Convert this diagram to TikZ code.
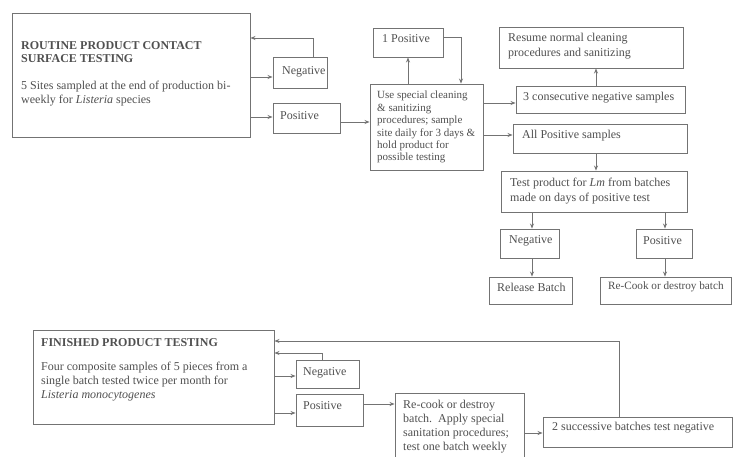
\documentclass[tikz,border=0pt]{standalone}
\usepackage{fontspec}
\setmainfont{Liberation Serif}
\usetikzlibrary{arrows.meta}
\definecolor{lc}{RGB}{115,115,115}
\definecolor{tc}{RGB}{80,80,80}
\tikzset{
  box/.style={draw=lc, line width=0.9pt, rectangle, inner sep=0pt},
  txt/.style={text=tc, inner sep=0pt, align=left, font=\fontsize{12}{14}\selectfont},
  smalltxt/.style={text=tc, inner sep=0pt, align=left, font=\fontsize{11}{12.4}\selectfont},
  arr/.style={draw=lc, line width=0.9pt, -{Stealth[length=5pt,width=4pt]}},
  ln/.style={draw=lc, line width=0.9pt}
}
\begin{document}
\begin{tikzpicture}[x=1pt,y=-1pt]
\useasboundingbox[fill=white] (0,0) rectangle (733,456);
% boxes
\node[box, minimum width=238pt, minimum height=124pt] (rt) at (131,75) {};
\node[box, minimum width=54pt, minimum height=31pt] (neg1) at (300,72.5) {};
\node[box, minimum width=67pt, minimum height=30pt] (pos1) at (306.5,118) {};
\node[box, minimum width=113pt, minimum height=86pt] (mid) at (426.5,127) {};
\node[box, minimum width=70pt, minimum height=29pt] (onep) at (408,42.5) {};
\node[box, minimum width=184pt, minimum height=41pt] (res) at (591,47.5) {};
\node[box, minimum width=169pt, minimum height=27pt] (cons) at (600.5,99.5) {};
\node[box, minimum width=174pt, minimum height=29pt] (allp) at (600,138.5) {};
\node[box, minimum width=186pt, minimum height=41pt] (test) at (594,191.5) {};
\node[box, minimum width=59pt, minimum height=29pt] (neg2) at (529.5,243.5) {};
\node[box, minimum width=56pt, minimum height=29pt] (pos2) at (664,243.5) {};
\node[box, minimum width=83pt, minimum height=27pt] (rel) at (530.5,290.5) {};
\node[box, minimum width=131pt, minimum height=27pt] (rec) at (665.5,290.5) {};
\node[box, minimum width=241pt, minimum height=94pt] (fin) at (153.5,377) {};
\node[box, minimum width=63pt, minimum height=28pt] (neg3) at (327.5,374) {};
\node[box, minimum width=67pt, minimum height=32pt] (pos3) at (329.5,410) {};
\node[box, minimum width=129pt, minimum height=67pt] (rc3) at (459.5,426.5) {};
\node[box, minimum width=189pt, minimum height=30pt] (two) at (637.5,432) {};
% texts
\node[txt, anchor=north west, font=\bfseries\fontsize{12}{13}\selectfont] (rtt) at (21,41.5) {ROUTINE PRODUCT CONTACT\\SURFACE TESTING};
\node[txt, anchor=north west] (rtb) at (21,81) {5 Sites sampled at the end of production bi-\\weekly for \textit{Listeria} species};
\node[txt, anchor=west] (neg1t) at (282,72) {Negative};
\node[txt, anchor=west] (pos1t) at (280,116) {Positive};
\node[txt, anchor=west] (onept) at (382,38.5) {1 Positive};
\node[smalltxt, anchor=north west] (midt) at (377,91) {Use special cleaning\\\& sanitizing\\procedures; sample\\site daily for 3 days \&\\hold product for\\possible testing};
\node[txt, anchor=north west, font=\fontsize{12}{15}\selectfont] (rest) at (508,33) {Resume normal cleaning\\procedures and sanitizing};
\node[txt, anchor=west] (const) at (523,98) {3 consecutive negative samples};
\node[txt, anchor=west] (allpt) at (522,136) {All Positive samples};
\node[txt, anchor=north west, font=\fontsize{12}{14.5}\selectfont] (testt) at (510,178) {Test product for \textit{Lm} from batches\\made on days of positive test};
\node[txt, anchor=west] (neg2t) at (509,241) {Negative};
\node[txt, anchor=west] (pos2t) at (643,241) {Positive};
\node[txt, anchor=west] (relt) at (497,287) {Release Batch};
\node[txt, anchor=west, font=\fontsize{11.2}{13}\selectfont] (rect) at (608,287) {Re-Cook or destroy batch};
\node[txt, anchor=north west, font=\bfseries\fontsize{12}{14}\selectfont] (fint) at (41,338) {FINISHED PRODUCT TESTING};
\node[txt, anchor=north west] (finb) at (41,362) {Four composite samples of 5 pieces from a\\single batch tested twice per month for\\\textit{Listeria monocytogenes}};
\node[txt, anchor=west] (neg3t) at (303,373) {Negative};
\node[txt, anchor=west] (pos3t) at (303,406) {Positive};
\node[txt, anchor=north west] (rc3t) at (403,400) {Re-cook or destroy\\batch.\ \ Apply special\\sanitation procedures;\\test one batch weekly};
\node[txt, anchor=west] (twot) at (552,428) {2 successive batches test negative};
% connectors top
\draw[arr] ([xshift=13pt]neg1.north) |- ([yshift=37pt]rt.east);
\draw[arr] ([yshift=-2pt]rt.east) -- ([yshift=-2pt]rt.east -| neg1.west);
\draw[arr] ([yshift=-42pt]rt.east) -- ([yshift=-42pt]rt.east -| pos1.west);
\draw[arr] ([yshift=-4pt]pos1.east) -- ([yshift=-4pt]pos1.east -| mid.west);
\draw[arr] (onep.south |- mid.north) -- (onep.south);
\draw[arr] ([yshift=5.5pt]onep.east) -| ([xshift=34.5pt]mid.north);
\draw[arr] ([yshift=24pt]mid.east) -- ([yshift=24pt]mid.east -| cons.west);
\draw[arr] ([yshift=-8pt]mid.east) -- ([yshift=-8pt]mid.east -| allp.west);
\draw[arr] ([xshift=-4.5pt]cons.north) -- ([xshift=-4.5pt]cons.north |- res.south);
\draw[arr] ([xshift=-4pt]allp.south) -- ([xshift=-4pt]allp.south |- test.north);
\draw[arr] ([xshift=2.5pt]neg2.north |- test.south) -- ([xshift=2.5pt]neg2.north);
\draw[arr] ([xshift=1pt]pos2.north |- test.south) -- ([xshift=1pt]pos2.north);
\draw[arr] ([xshift=2.5pt]neg2.south) -- ([xshift=2.5pt]neg2.south |- rel.north);
\draw[arr] ([xshift=1pt]pos2.south) -- ([xshift=1pt]pos2.south |- rec.north);
% connectors bottom
\draw[arr] ([xshift=-18.5pt]two.north) |- ([yshift=36pt]fin.east);
\draw[arr] ([xshift=-5.5pt]neg3.north) |- ([yshift=24pt]fin.east);
\draw[arr] ([yshift=1pt]fin.east) -- ([yshift=1pt]fin.east -| neg3.west);
\draw[arr] ([yshift=-36pt]fin.east) -- ([yshift=-36pt]fin.east -| pos3.west);
\draw[arr] ([yshift=6pt]pos3.east) -- ([yshift=6pt]pos3.east -| rc3.west);
\draw[arr] ([yshift=-6.5pt]rc3.east) -- ([yshift=-6.5pt]rc3.east -| two.west);
\end{tikzpicture}
\end{document}
